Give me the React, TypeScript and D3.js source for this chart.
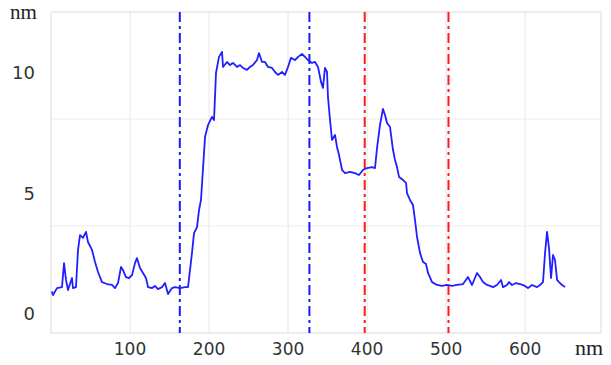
import React from "react";
import * as d3 from "d3";

const width = 611;
const height = 365;
const margin = { top: 12, right: 10, bottom: 32, left: 51 };

// profile (x in nm, height in nm)
const profileX = [
  1, 2.5, 7.6, 13.9, 16.5, 19, 21.5, 26.6, 27.8, 31.6, 34.2, 36.7, 40.5, 44.3, 46.8, 51.9, 55.7, 59.5, 64.5, 70.9,
  77.2, 81, 84.8, 88.6, 91.1, 94.9, 98.7, 102.5, 106.3, 108.8, 112.6, 116.4, 120.2, 122.8, 127.8, 131.6, 135.4,
  140.5, 144.3, 148.1, 153.1, 156.9, 163.3, 169.6, 173.4, 178.4, 181, 184.8, 187.3, 189.8, 194.9, 198.7, 203.7,
  206.3, 208.8, 212.6, 216.4, 217.7, 222.7, 226.5, 230.3, 235.4, 239.2, 243, 248, 251.8, 255.6, 260.7, 263.2, 267,
  270.8, 274.6, 279.7, 283.5, 287.3, 292.3, 296.1, 299.9, 303.7, 308.8, 312.6, 317.6, 321.4, 325.2, 330.3, 334.1,
  337.9, 341.7, 344.2, 346.7, 349.3, 350.5, 353.1, 355.6, 359.4, 361.9, 364.5, 368.3, 372.1, 378.4, 384.7, 389.8,
  394.8, 399.9, 406.2, 410, 412.6, 416.3, 420.1, 422.7, 425.2, 429, 432.8, 435.3, 437.9, 440.4, 445.5, 449.3, 450.5,
  454.3, 458.1, 460.6, 463.2, 467, 470.8, 474.6, 477.1, 482.2, 488.5, 494.8, 501.1, 507.5, 513.8, 521.4, 527.7,
  532.8, 539.1, 542.9, 546.7, 551.8, 555.6, 559.4, 564.4, 569.5, 572, 577.1, 579.6, 583.4, 588.5, 593.5, 599.8,
  603.6, 608.7, 615, 618.8, 622.6, 625.2, 627.7, 630.2, 632.8, 635.3, 637.8, 640.4, 642.9, 646.7, 650.5,
];
const profileH = [
  0.9, 0.75, 1.04, 1.08, 2.08, 1.38, 0.96, 1.46, 1.04, 1.08, 2.63, 3.25, 3.13, 3.38, 2.96, 2.63, 2.13, 1.71, 1.29, 1.21,
  1.17, 1.04, 1.25, 1.92, 1.79, 1.5, 1.46, 1.58, 2.08, 2.29, 1.88, 1.67, 1.46, 1.08, 1.04, 1.13, 1.0,
  1.08, 1.25, 0.79, 1.04, 1.08, 1.04, 1.08, 1.08, 2.5, 3.33, 3.58, 4.29, 4.71, 7.33, 7.83, 8.17,
  8.04, 10.0, 10.67, 10.88, 10.25, 10.46, 10.33, 10.42, 10.25, 10.33, 10.21, 10.13, 10.25, 10.33, 10.54, 10.83, 10.46,
  10.46, 10.25, 10.21, 10.04, 9.92, 10.04, 9.92, 10.25, 10.63, 10.54, 10.67, 10.79, 10.67, 10.54, 10.42, 10.46,
  10.25, 9.63, 9.38, 10.21, 10.04, 9.0, 8.04, 7.21, 7.42, 6.92, 6.58, 5.96, 5.83, 5.88, 5.83, 5.75,
  5.96, 6.04, 6.08, 6.04, 6.88, 7.83, 8.5, 8.25, 7.92, 7.75, 6.79, 6.38, 6.08, 5.67, 5.54, 5.42, 5.0,
  4.71, 4.5, 3.88, 3.17, 2.5, 2.13, 2.04, 1.67, 1.29, 1.17, 1.13, 1.17, 1.13, 1.17, 1.21, 1.5,
  1.17, 1.67, 1.5, 1.29, 1.17, 1.13, 1.08, 1.17, 1.38, 1.08, 1.17, 1.29, 1.17, 1.25, 1.21, 1.13,
  1.04, 1.17, 1.08, 1.17, 1.29, 2.5, 3.38, 2.71, 1.46, 2.42, 2.21, 1.38, 1.29, 1.17, 1.08,
];

const xTicks = [100, 200, 300, 400, 500, 600];
const yTicks = [0, 5, 10];
const blueMarkers = [163, 327];
const redMarkers = [397, 503];

const sans = "DejaVu Sans, Verdana, sans-serif";
const serif = "Liberation Serif, Times New Roman, serif";

const App = () => {
  const x = d3.scaleLinear().domain([0, 696]).range([margin.left, width - margin.right]);
  const y = d3.scaleLinear().domain([-0.83, 12.54]).range([height - margin.bottom, margin.top]);

  const points = profileX.map((v, i) => [v, profileH[i]] as [number, number]);
  const line = d3
    .line<[number, number]>()
    .x((d) => x(d[0]))
    .y((d) => y(d[1]));

  const [x0, x1] = x.range();
  const [yb, yt] = y.range();
  // horizontal grid splits the plot in three equal bands
  const hGrid = [1, 2].map((k) => yt + ((yb - yt) * k) / 3);

  const dash = "10,4,3,4";

  return (
    <svg width={width} height={height} style={{ position: "absolute", left: 0, top: 0, background: "#fff" }}>
      {/* grid */}
      {xTicks.map((t) => (
        <line key={t} x1={x(t)} x2={x(t)} y1={yt} y2={yb} stroke="#ebebeb" strokeWidth={1.2} />
      ))}
      {hGrid.map((gy) => (
        <line key={gy} x1={x0} x2={x1} y1={gy} y2={gy} stroke="#ebebeb" strokeWidth={1.2} />
      ))}
      <rect x={x0} y={yt} width={x1 - x0} height={yb - yt} fill="none" stroke="#e2e2e2" strokeWidth={1.2} />

      {/* marker lines */}
      {blueMarkers.map((m) => (
        <line key={m} x1={x(m)} x2={x(m)} y1={yt} y2={yb} stroke="#1a1aff" strokeWidth={2} strokeDasharray={dash} />
      ))}
      {redMarkers.map((m) => (
        <line key={m} x1={x(m)} x2={x(m)} y1={yt} y2={yb} stroke="#ff1a1a" strokeWidth={2} strokeDasharray={dash} />
      ))}

      {/* profile */}
      <path d={line(points) ?? ""} fill="none" stroke="#1f1fff" strokeWidth={1.8} strokeLinejoin="round" />

      {/* tick labels */}
      {xTicks.map((t) => (
        <text key={t} x={x(t)} y={355} textAnchor="middle" fontFamily={sans} fontSize={17} fill="#333">
          {t}
        </text>
      ))}
      {yTicks.map((t) => (
        <text key={t} x={35} y={y(t)} dy="0.36em" textAnchor="end" fontFamily={sans} fontSize={18} fill="#333">
          {t}
        </text>
      ))}
      <text x={10} y={19} fontFamily={serif} fontSize={21} fill="#222">
        nm
      </text>
      <text x={575} y={355} fontFamily={serif} fontSize={22} fill="#222">
        nm
      </text>
    </svg>
  );
};

export default App;
